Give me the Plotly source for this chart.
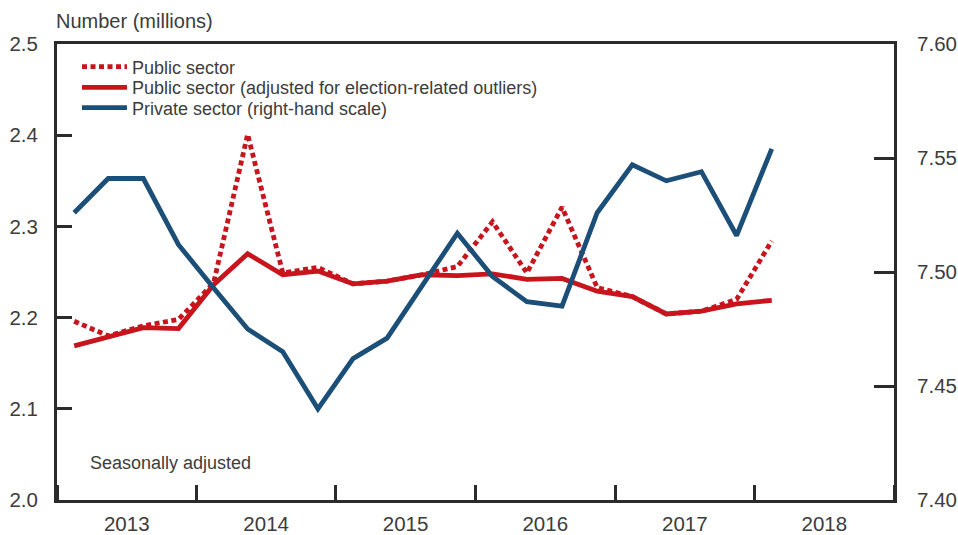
import plotly.graph_objects as go

quarters = ["2013-02-15", "2013-05-15", "2013-08-15", "2013-11-15",
            "2014-02-15", "2014-05-15", "2014-08-15", "2014-11-15",
            "2015-02-15", "2015-05-15", "2015-08-15", "2015-11-15",
            "2016-02-15", "2016-05-15", "2016-08-15", "2016-11-15",
            "2017-02-15", "2017-05-15", "2017-08-15", "2017-11-15",
            "2018-02-15"]

public_sector = [2.196, 2.180, 2.191, 2.198,
                 2.238, 2.401, 2.249, 2.255,
                 2.237, 2.240, 2.247, 2.256,
                 2.305, 2.249, 2.321, 2.233,
                 2.223, 2.204, 2.207, 2.220,
                 2.284]

public_adjusted = [2.169, 2.179, 2.189, 2.188,
                   2.236, 2.270, 2.247, 2.251,
                   2.237, 2.240, 2.247, 2.246,
                   2.248, 2.242, 2.243, 2.229,
                   2.223, 2.204, 2.207, 2.215,
                   2.219]

private_sector = [7.526, 7.541, 7.541, 7.512,
                  7.493, 7.475, 7.465, 7.440,
                  7.462, 7.471, 7.494, 7.517,
                  7.498, 7.487, 7.485, 7.526,
                  7.547, 7.540, 7.544, 7.516,
                  7.554]

RED = "#c8151d"
BLUE = "#1c4f78"
TXT = "#3c3c3c"
AX = "#2b2b2b"
FONT = "Liberation Sans, Arial, sans-serif"
LW = 4.8

fig = go.Figure()
fig.add_trace(go.Scatter(x=quarters, y=public_sector, mode="lines",
                         name="Public sector", legend="legend",
                         line=dict(color=RED, width=LW, dash="5px,3.5px")))
fig.add_trace(go.Scatter(x=quarters, y=public_adjusted, mode="lines",
                         name="Public sector (adjusted for election-related outliers)",
                         legend="legend2",
                         line=dict(color=RED, width=LW)))
fig.add_trace(go.Scatter(x=quarters, y=private_sector, mode="lines",
                         name="Private sector (right-hand scale)", yaxis="y2",
                         legend="legend3",
                         line=dict(color=BLUE, width=LW)))

leg_common = dict(x=0.0239, xanchor="left", yanchor="middle",
                  bgcolor="rgba(0,0,0,0)", borderwidth=0,
                  font=dict(size=18, color=TXT, family=FONT), itemwidth=45)

fig.update_layout(
    width=958, height=535,
    margin=dict(l=57, r=64, t=44, b=35),
    paper_bgcolor="white", plot_bgcolor="white",
    font=dict(family=FONT, size=20, color=TXT),
    showlegend=True,
    legend=dict(y=0.9496, **leg_common),
    legend2=dict(y=0.9042, **leg_common),
    legend3=dict(y=0.8596, **leg_common),
    xaxis=dict(type="date", range=["2013-01-01", "2019-01-01"],
               tick0="2013-01-01", dtick="M12", tickformat="%Y",
               ticklabelmode="period", ticks="inside", ticklen=15,
               tickwidth=2.5, tickcolor=AX, automargin=False,
               showline=True, linecolor=AX, linewidth=3,
               mirror=True, showgrid=False, zeroline=False,
               ticklabelstandoff=3,
               tickfont=dict(size=20.5, color=TXT)),
    yaxis=dict(range=[2.0, 2.5], dtick=0.1, tickformat=".1f",
               ticks="inside", ticklen=15, tickwidth=2.5, tickcolor=AX,
               showline=True, linecolor=AX, linewidth=3, automargin=False,
               showgrid=False, zeroline=False, ticklabelstandoff=12,
               tickfont=dict(size=20.5, color=TXT)),
    yaxis2=dict(range=[7.40, 7.60], dtick=0.05, tickformat=".2f",
                overlaying="y", side="right", automargin=False,
                ticks="inside", ticklen=20, tickwidth=2.5, tickcolor=AX,
                showline=True, linecolor=AX, linewidth=3,
                showgrid=False, zeroline=False, ticklabelstandoff=16,
                tickfont=dict(size=20.5, color=TXT)),
)

fig.add_annotation(text="Number (millions)", xref="paper", yref="paper",
                   x=-0.0036, y=1.0, yshift=23, xanchor="left", yanchor="middle",
                   showarrow=False, font=dict(size=20, color=TXT))
fig.add_annotation(text="Seasonally adjusted", xref="paper", yref="paper",
                   x=0.037, y=0.081, xanchor="left", yanchor="middle",
                   showarrow=False, font=dict(size=18, color=TXT))

fig.write_html("out.html", config={"displayModeBar": False},
               post_script="document.body.style.margin='0px';")
